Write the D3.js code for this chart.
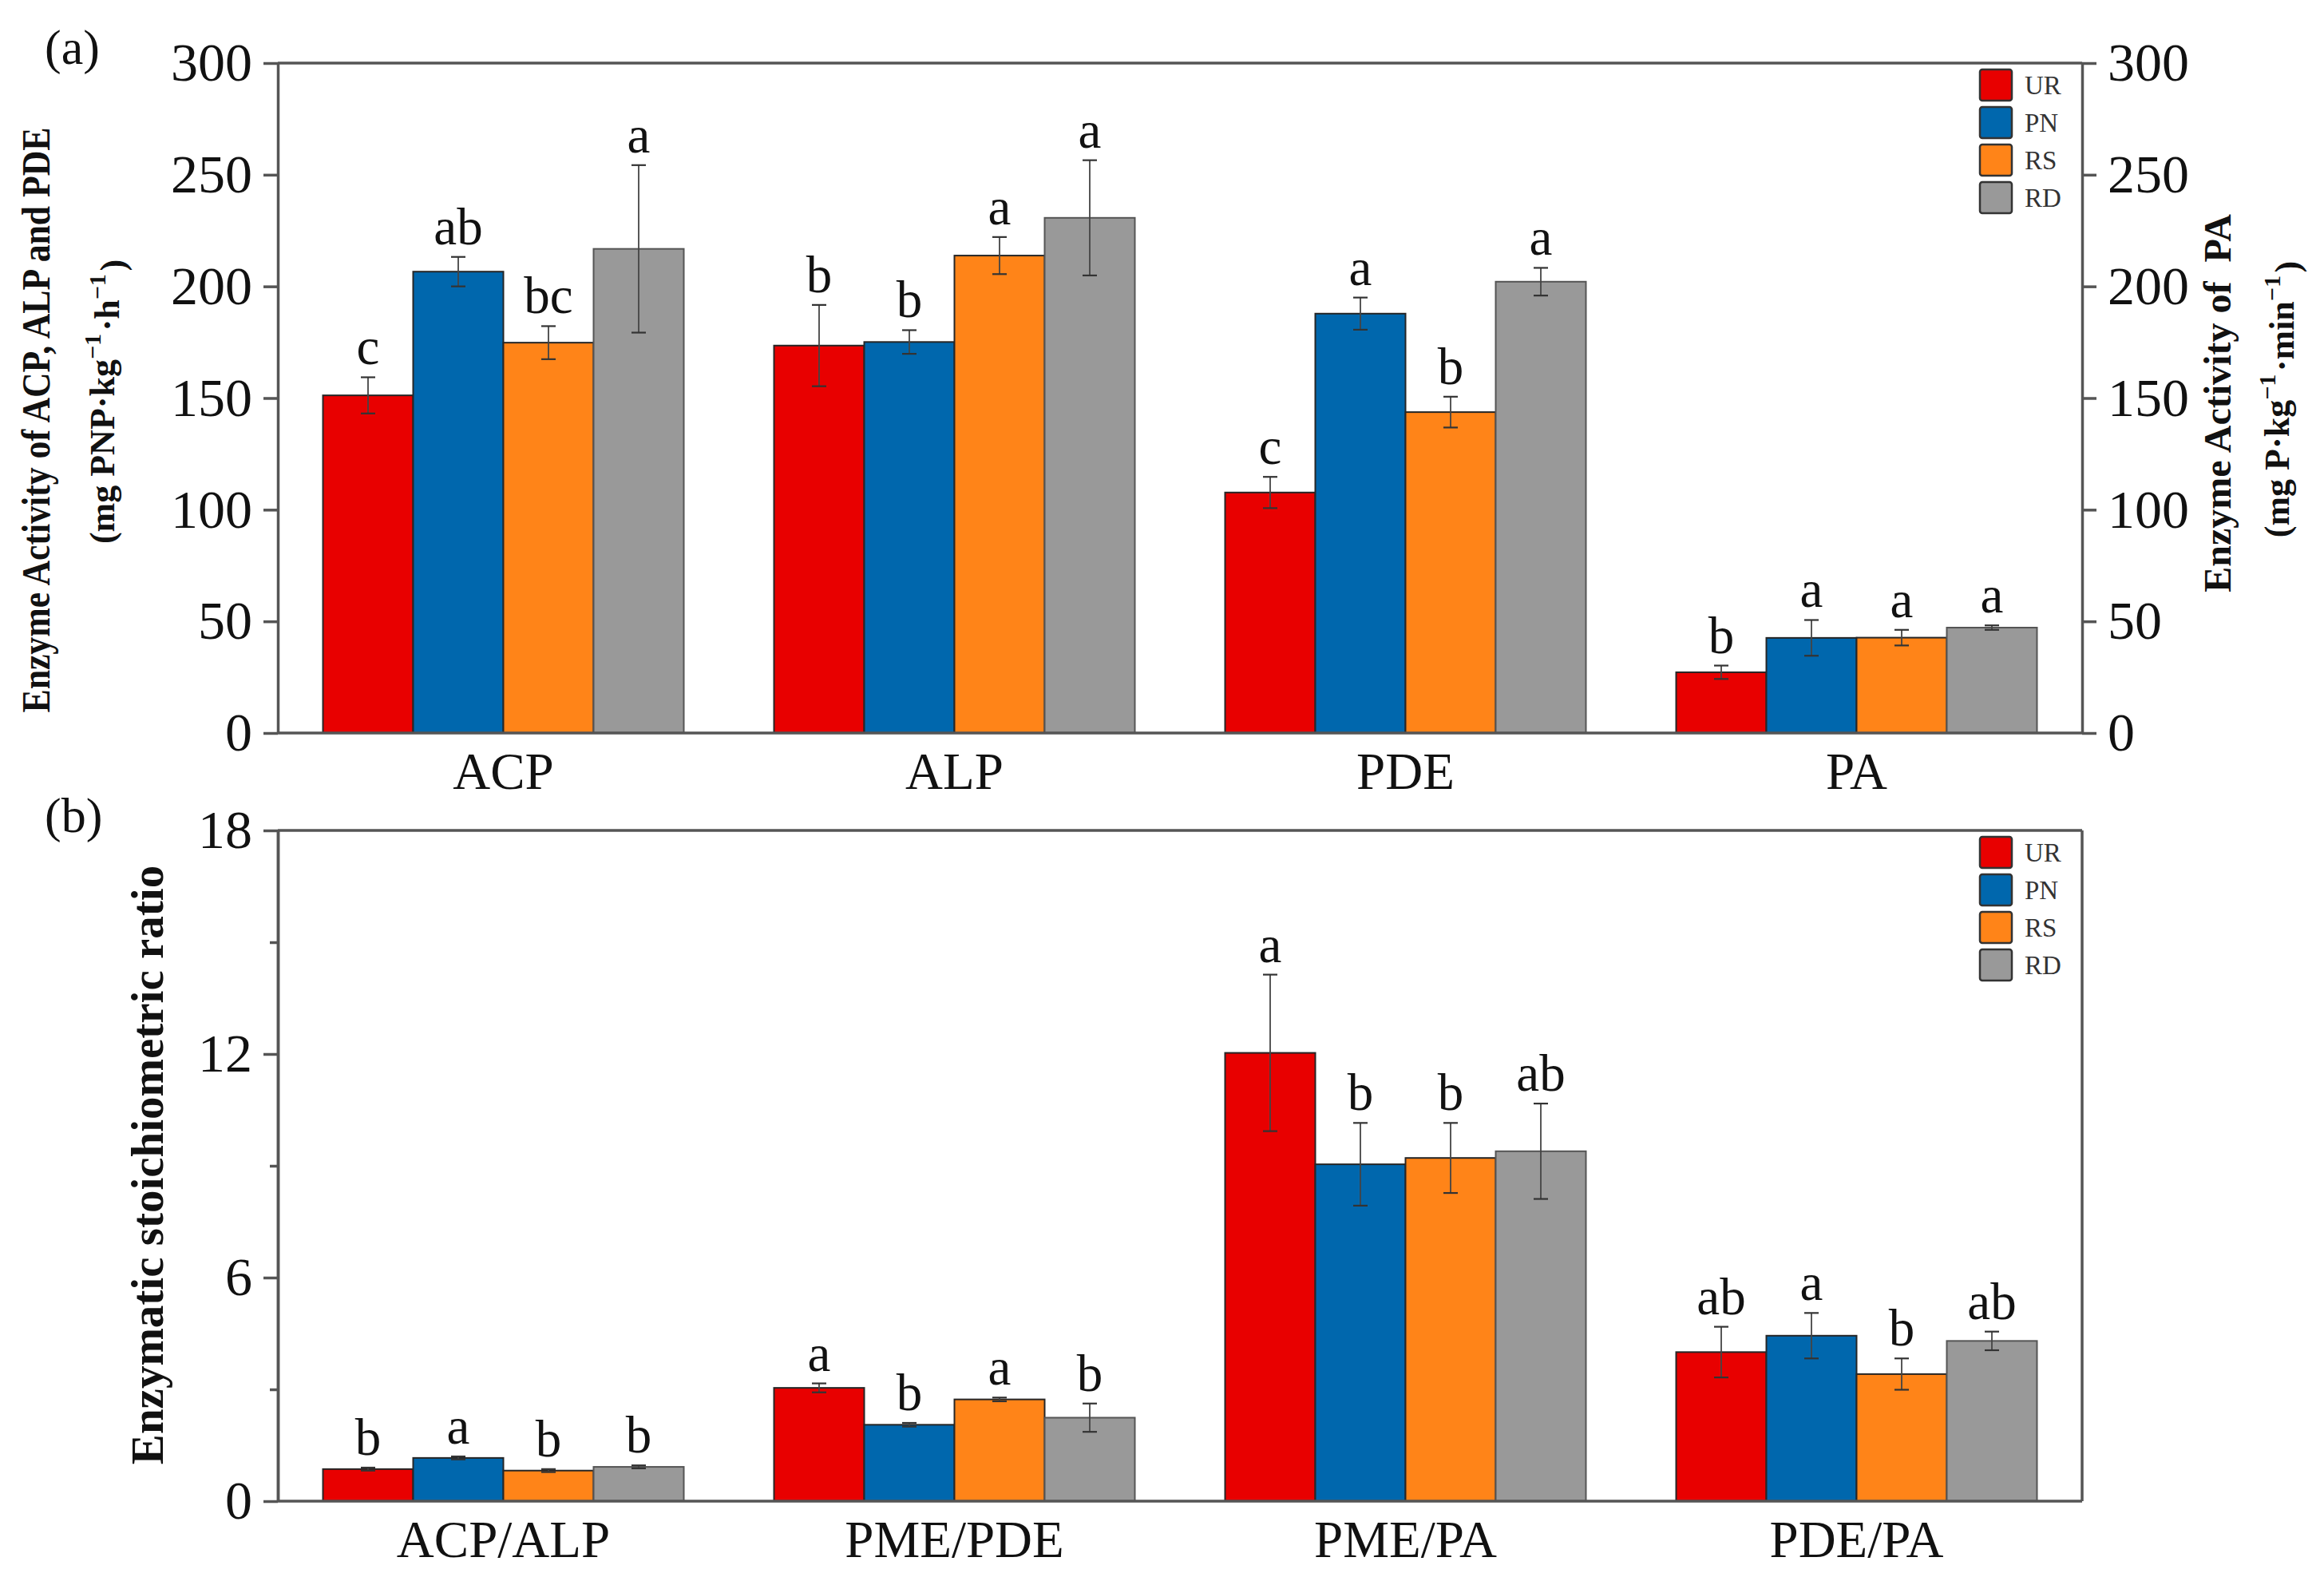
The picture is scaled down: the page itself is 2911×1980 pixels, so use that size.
<!DOCTYPE html>
<html>
<head>
<meta charset="utf-8">
<script src="https://cdn.jsdelivr.net/npm/d3@7"></script>
<style>
  body { margin: 0; background: #fff; }
  svg { display: block; }
</style>
</head>
<body>
<script>
// ---------------- DATA ----------------
const seriesNames = ["UR", "PN", "RS", "RD"];
const catsA = ["ACP", "ALP", "PDE", "PA"];
const catsB = ["ACP/ALP", "PME/PDE", "PME/PA", "PDE/PA"];
const ticksA = [0, 50, 100, 150, 200, 250, 300];
const ticksB = [0, 6, 12, 18];
const minorTicksB = [3, 9, 15];

// Panel (a): enzyme activity (ACP, ALP, PDE on left axis; PA on right axis, same 0-300 range)
const urA = [151.2, 173.5, 107.7, 27.2];
const pnA = [206.6, 175.1, 187.8, 42.6];
const rsA = [174.8, 213.8, 143.7, 42.7];
const rdA = [216.8, 230.7, 202.1, 47.2];
const urAErr = [8.1, 18.2, 7.0, 3.0];
const pnAErr = [6.6, 5.3, 7.2, 8.0];
const rsAErr = [7.4, 8.3, 6.9, 3.5];
const rdAErr = [37.5, 25.8, 6.2, 1.0];
const urALet = ["c", "b", "c", "b"];
const pnALet = ["ab", "b", "a", "a"];
const rsALet = ["bc", "a", "b", "a"];
const rdALet = ["a", "a", "a", "a"];

// Panel (b): enzymatic stoichiometric ratio
const urB = [0.86, 3.04, 12.03, 4.00];
const pnB = [1.16, 2.05, 9.04, 4.44];
const rsB = [0.82, 2.73, 9.21, 3.41];
const rdB = [0.92, 2.24, 9.39, 4.30];
const urBErr = [0.04, 0.12, 2.10, 0.68];
const pnBErr = [0.04, 0.05, 1.11, 0.61];
const rsBErr = [0.04, 0.05, 0.94, 0.42];
const rdBErr = [0.04, 0.38, 1.28, 0.25];
const urBLet = ["b", "a", "a", "ab"];
const pnBLet = ["a", "b", "b", "a"];
const rsBLet = ["b", "a", "b", "b"];
const rdBLet = ["b", "b", "ab", "ab"];

// ---------------- STYLE ----------------
const seriesColors = ["#E80000", "#0067AD", "#FF8418", "#999999"];
const W = 2911, H = 1980;
const L = 348, R = 2608;
const FONT = "'Liberation Serif', 'Times New Roman', Times, serif";
const AX = "#555555";

const svg = d3.select("body").append("svg")
  .attr("width", W).attr("height", H)
  .attr("viewBox", `0 0 ${W} ${H}`)
  .style("font-family", FONT);

const color = d3.scaleOrdinal().domain(seriesNames).range(seriesColors);

function buildRows(cats, means, errs, lets) {
  const rows = [];
  seriesNames.forEach((s, i) => {
    cats.forEach((c, j) => {
      rows.push({ s, c, v: means[i][j], e: errs[i][j], l: lets[i][j] });
    });
  });
  return rows;
}

function styleAxis(g, fs) {
  g.attr("font-family", null).attr("font-size", null);
  g.select(".domain").attr("stroke", AX).attr("stroke-width", 3.5);
  g.selectAll(".tick line").attr("stroke", AX).attr("stroke-width", 3.5);
  g.selectAll(".tick text").attr("fill", "#111").style("font-size", fs + "px").style("font-family", FONT);
}

function panel(cfg) {
  const { cats, rows, top, bottom, yMax, ticks, minor, rightAxis } = cfg;
  const x = d3.scaleBand().domain(cats).range([L, R]).paddingInner(0.2).paddingOuter(0.1);
  const xs = d3.scaleBand().domain(seriesNames).range([0, x.bandwidth()]);
  const y = d3.scaleLinear().domain([0, yMax]).range([bottom, top]);
  const g = svg.append("g");

  // frame: top line and (for panel b) right line
  g.append("line").attr("x1", L).attr("x2", R).attr("y1", top).attr("y2", top)
    .attr("stroke", AX).attr("stroke-width", 3.5);
  if (!rightAxis) {
    g.append("line").attr("x1", R).attr("x2", R).attr("y1", top).attr("y2", bottom)
      .attr("stroke", AX).attr("stroke-width", 3.5);
  }

  // bars
  g.selectAll("rect.bar").data(rows).join("rect")
    .attr("class", "bar")
    .attr("x", d => x(d.c) + xs(d.s))
    .attr("y", d => y(d.v))
    .attr("width", xs.bandwidth())
    .attr("height", d => y(0) - y(d.v))
    .attr("fill", d => color(d.s))
    .attr("stroke", d => d.s === "RD" ? "#555" : "#262626")
    .attr("stroke-width", 2);

  // error bars
  const cx = d => x(d.c) + xs(d.s) + xs.bandwidth() / 2;
  const eg = g.selectAll("g.err").data(rows).join("g").attr("class", "err");
  eg.append("line").attr("x1", cx).attr("x2", cx)
    .attr("y1", d => y(d.v + d.e)).attr("y2", d => y(d.v - d.e))
    .attr("stroke", "#444").attr("stroke-width", 1.8);
  eg.append("line").attr("x1", d => cx(d) - 9).attr("x2", d => cx(d) + 9)
    .attr("y1", d => y(d.v + d.e)).attr("y2", d => y(d.v + d.e))
    .attr("stroke", "#333").attr("stroke-width", 2.2);
  eg.append("line").attr("x1", d => cx(d) - 9).attr("x2", d => cx(d) + 9)
    .attr("y1", d => y(d.v - d.e)).attr("y2", d => y(d.v - d.e))
    .attr("stroke", "#333").attr("stroke-width", 2.2);

  // significance letters
  g.selectAll("text.let").data(rows).join("text")
    .attr("class", "let")
    .attr("x", cx)
    .attr("y", d => y(d.v + d.e) - 16)
    .attr("text-anchor", "middle")
    .attr("fill", "#111")
    .style("font-size", "65px")
    .text(d => d.l);

  // left axis
  const ga = g.append("g").attr("transform", `translate(${L},0)`)
    .call(d3.axisLeft(y).tickValues(ticks).tickSize(18).tickPadding(14).tickSizeOuter(0).tickFormat(d3.format("d")));
  styleAxis(ga, 68);
  if (minor) {
    const gm = g.append("g").attr("transform", `translate(${L},0)`)
      .call(d3.axisLeft(y).tickValues(minor).tickSize(10).tickSizeOuter(0).tickFormat(""));
    styleAxis(gm, 68);
  }
  if (rightAxis) {
    const gr = g.append("g").attr("transform", `translate(${R},0)`)
      .call(d3.axisRight(y).tickValues(ticks).tickSize(18).tickPadding(14).tickSizeOuter(0).tickFormat(d3.format("d")));
    styleAxis(gr, 68);
  }
  // bottom axis
  const gb = g.append("g").attr("transform", `translate(0,${bottom})`)
    .call(d3.axisBottom(x).tickSize(0).tickPadding(24).tickSizeOuter(0));
  styleAxis(gb, 65);
  gb.select(".domain").attr("d", `M${L},0H${R}`);

  // legend
  const lg = g.append("g").attr("transform", `translate(2480,${top + 8})`);
  seriesNames.forEach((s, i) => {
    lg.append("rect").attr("x", 0).attr("y", i * 47).attr("width", 40).attr("height", 39)
      .attr("rx", 3).attr("fill", color(s)).attr("stroke", "#333").attr("stroke-width", 2.5);
    lg.append("text").attr("x", 56).attr("y", i * 47 + 20).attr("dominant-baseline", "central")
      .attr("fill", "#333").style("font-size", "33px").text(s);
  });
  return { x, y };
}

panel({
  cats: catsA,
  rows: buildRows(catsA, [urA, pnA, rsA, rdA], [urAErr, pnAErr, rsAErr, rdAErr], [urALet, pnALet, rsALet, rdALet]),
  top: 79, bottom: 918, yMax: 300, ticks: ticksA, minor: null, rightAxis: true
});
panel({
  cats: catsB,
  rows: buildRows(catsB, [urB, pnB, rsB, rdB], [urBErr, pnBErr, rsBErr, rdBErr], [urBLet, pnBLet, rsBLet, rdBLet]),
  top: 1040, bottom: 1880, yMax: 18, ticks: ticksB, minor: minorTicksB, rightAxis: false
});

// panel labels
svg.append("text").attr("x", 56).attr("y", 80).style("font-size", "62px").attr("fill", "#111").text("(a)");
svg.append("text").attr("x", 56).attr("y", 1042).style("font-size", "62px").attr("fill", "#111").text("(b)");

// rotated titles with superscripts
function vtitle(cx, cy, parts, fs, textLen) {
  const t = svg.append("text")
    .attr("transform", `translate(${cx},${cy}) rotate(-90)`)
    .attr("text-anchor", "middle")
    .attr("dominant-baseline", "central")
    .attr("font-weight", "bold")
    .attr("fill", "#111")
    .attr("xml:space", "preserve")
    .style("white-space", "pre")
    .style("font-size", fs + "px");
  if (textLen) t.attr("textLength", textLen).attr("lengthAdjust", "spacingAndGlyphs");
  parts.forEach(p => {
    if (p.sup) {
      t.append("tspan").attr("dy", "-0.45em").style("font-size", (fs * 0.68) + "px").text(p.sup);
      t.append("tspan").attr("dy", "0.45em").text("\u200A");
    } else {
      t.append("tspan").text(p.t);
    }
  });
  return t;
}
vtitle(45, 526, [{ t: "Enzyme Activity of ACP, ALP and PDE" }], 50, 733);
vtitle(128, 503, [{ t: "(mg PNP\u00B7kg" }, { sup: "\u22121" }, { t: "\u00B7h" }, { sup: "\u22121" }, { t: ")" }], 44);
vtitle(2777, 505, [{ t: "Enzyme Activity of  PA" }], 48);
vtitle(2852, 500, [{ t: "(mg P\u00B7kg" }, { sup: "\u22121" }, { t: "\u00B7min" }, { sup: "\u22121" }, { t: ")" }], 44);
vtitle(184, 1459, [{ t: "Enzymatic stoichiometric ratio" }], 57);
</script>
</body>
</html>
